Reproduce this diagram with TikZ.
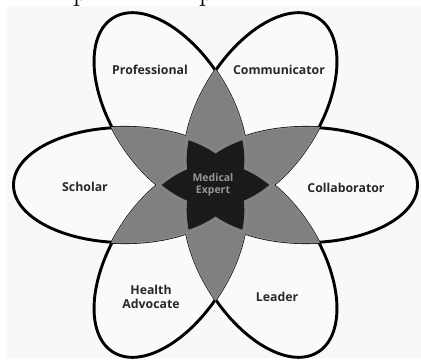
\documentclass[tikz,border=0pt]{standalone}
\usepackage{fontspec}
\newfontfamily\labfont{Open Sans}
\definecolor{bgc}{RGB}{248,248,249}
\definecolor{petalc}{RGB}{250,250,251}
\definecolor{lensc}{RGB}{128,128,128}
\definecolor{darkc}{RGB}{26,26,26}
\definecolor{textc}{RGB}{40,40,40}
\definecolor{medc}{RGB}{150,150,150}
\tikzset{
  petalfill/.style={fill=petalc},
  petaledge/.style={draw=black, line width=2.9pt},
  lensfill/.style={fill=lensc},
  darkfill/.style={fill=darkc},
  lab/.style={font=\labfont\bfseries\fontsize{12.3}{13.3}\selectfont, text=textc, align=center, inner sep=0pt},
  medlab/.style={font=\labfont\bfseries\fontsize{10.5}{11.5}\selectfont, text=medc, align=center, inner sep=0pt},
  frag/.style={font=\fontsize{30}{30}\selectfont, anchor=base, inner sep=0pt}
}
\begin{document}
\begin{tikzpicture}[x=1pt,y=1pt]
\useasboundingbox (0,0) rectangle (421,-361);
\fill[white] (0,0) rectangle (421,-361);
\fill[bgc] (7,-6) rectangle (421,-358);
% cut-off text fragments at the top edge, as in the reference
\begin{scope}
\clip (0,0) rectangle (421,-6);
\node[frag] (fragA) at (80.5,-0.5) {p};
\node[frag] (fragB) at (206.5,-0.5) {p};
\end{scope}
% flower
\begin{scope}[shift={(215.5,-185)}, yscale=0.96]
  \foreach \a in {0,60,...,300}
    \fill[petalfill, rotate=\a] (90.5,0) ellipse [x radius=111.5, y radius=60];
  \foreach \a in {0,60,...,300}
    \draw[petaledge, rotate=\a] (90.5,0) ellipse [x radius=111.5, y radius=60];
  % pairwise overlaps
  \foreach \a in {0,60,...,300} {
    \begin{scope}
      \clip[rotate=\a] (90.5,0) ellipse [x radius=112.4, y radius=60.9];
      \fill[lensfill, rotate=\a+60] (90.5,0) ellipse [x radius=112.4, y radius=60.9];
    \end{scope}
  }
  % thin inner edges
  \foreach \a in {0,60,...,300} {
    \begin{scope}
      \clip[rotate=\a] (90.5,0) ellipse [x radius=111.5, y radius=60];
      \draw[black!45, line width=0.5pt, rotate=\a+60] (90.5,0) ellipse [x radius=111.5, y radius=60];
      \draw[black!45, line width=0.5pt, rotate=\a-60] (90.5,0) ellipse [x radius=111.5, y radius=60];
    \end{scope}
  }
  % triple overlaps
  \foreach \a in {0,60,...,300} {
    \begin{scope}[scale=0.93]
      \clip[rotate=\a-60] (90.5,0) ellipse [x radius=111.5, y radius=60];
      \clip[rotate=\a+60] (90.5,0) ellipse [x radius=111.5, y radius=60];
      \fill[darkfill, rotate=\a] (90.5,0) ellipse [x radius=111.5, y radius=60];
    \end{scope}
  }
\end{scope}
% labels
\node[lab] (prof) at (150,-70) {Professional};
\node[lab] (comm) at (279,-70) {Communicator};
\node[lab] (schol) at (85,-187) {Scholar};
\node[lab] (coll) at (346,-188) {Collaborator};
\node[lab] (health) at (151,-297) {Health\\Advocate};
\node[lab] (lead) at (277,-297) {Leader};
\node[medlab] (med) at (213,-185) {Medical\\Expert};
\end{tikzpicture}
\end{document}
